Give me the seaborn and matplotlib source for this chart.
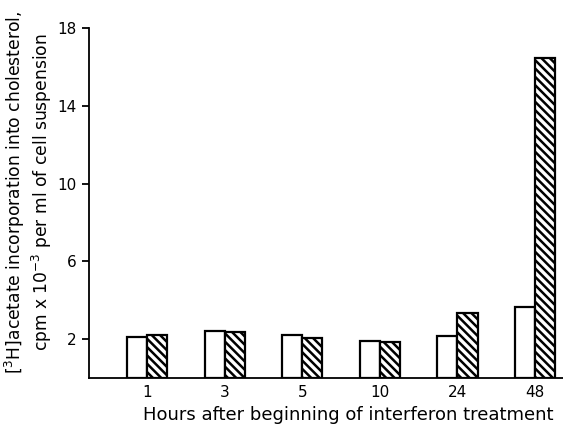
import pandas as pd
import seaborn as sns
import matplotlib.pyplot as plt

# Values
hours = ['1', '3', '5', '10', '24', '48']
control = [2.1, 2.4, 2.2, 1.9, 2.15, 3.65]
interferon = [2.2, 2.35, 2.05, 1.85, 3.35, 16.45]
y_ticks = [2, 6, 10, 14, 18]

df = pd.DataFrame({
    'hours': hours * 2,
    'value': control + interferon,
    'group': ['control'] * len(hours) + ['interferon'] * len(hours),
})

sns.set_style('ticks')
plt.rcParams['font.family'] = ['DejaVu Sans']
plt.rcParams['hatch.linewidth'] = 1.8
plt.rcParams['text.color'] = 'black'
plt.rcParams['axes.labelcolor'] = 'black'
plt.rcParams['xtick.color'] = 'black'
plt.rcParams['ytick.color'] = 'black'

fig = plt.figure(figsize=(5.63, 4.37), dpi=100)
ax = fig.add_axes([0.158, 0.135, 0.842, 0.801])

sns.barplot(data=df, x='hours', y='value', hue='group', order=hours,
            palette=['white', 'white'], width=0.52, edgecolor='black',
            linewidth=1.6, legend=False, ax=ax)

# hatch the interferon-treated bars
for bar in ax.containers[1]:
    bar.set_hatch('\\\\\\\\')

ax.set_xlim(-0.75, 5.36)
ax.set_ylim(0, 18)
ax.set_yticks(y_ticks)
ax.tick_params(axis='y', length=5, width=1.3, labelsize=11, pad=4)
ax.tick_params(axis='x', length=0, labelsize=11, pad=5)
sns.despine(ax=ax)
ax.spines['left'].set_linewidth(1.3)
ax.spines['bottom'].set_linewidth(1.3)
ax.spines['left'].set_color('black')
ax.spines['bottom'].set_color('black')

ax.set_xlabel('Hours after beginning of interferon treatment', fontsize=13)
ax.xaxis.set_label_coords(0.548, -0.08)
ax.set_ylabel('[$^3$H]acetate incorporation into cholesterol,\n'
              'cpm x 10$^{-3}$ per ml of cell suspension',
              fontsize=12.3, linespacing=1.15)
ax.yaxis.set_label_coords(-0.074, 0.53)

fig.savefig('out.png', dpi=100)
